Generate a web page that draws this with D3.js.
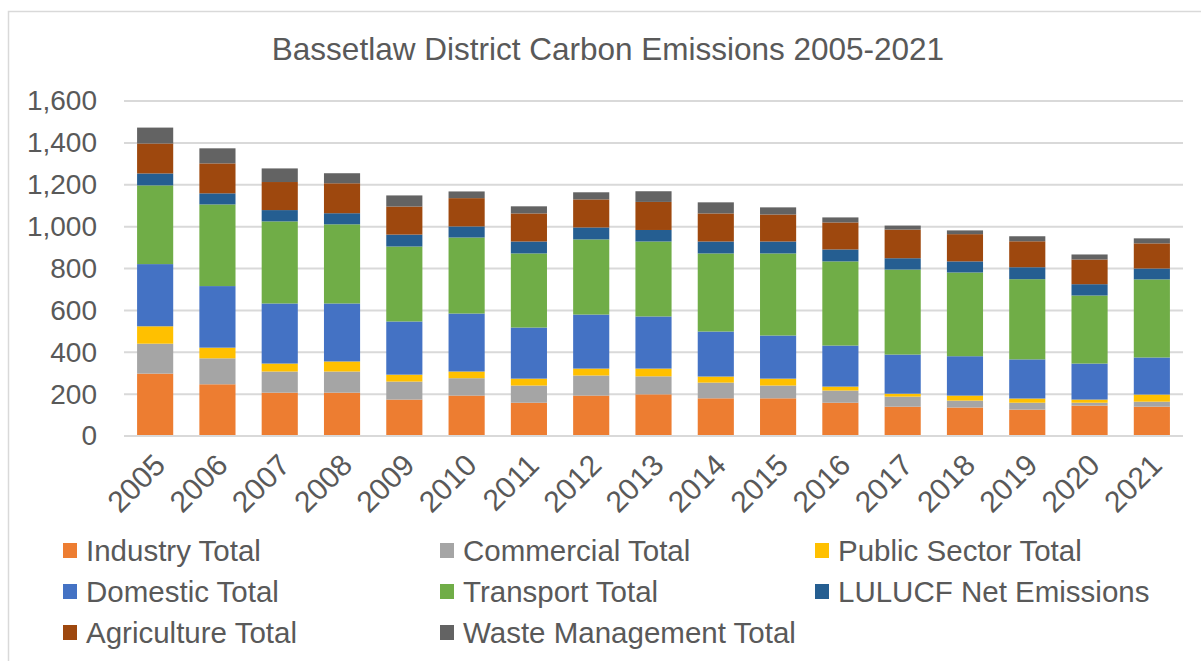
<!DOCTYPE html>
<html>
<head>
<meta charset="utf-8">
<script src="https://cdn.jsdelivr.net/npm/d3@7"></script>
<style>
  body { margin: 0; background: #fff; }
  text { font-family: "Liberation Sans", Arial, sans-serif; fill: #595959; }
</style>
</head>
<body>
<script>
// values (thousand tonnes CO2)
const years = ["2005","2006","2007","2008","2009","2010","2011","2012","2013","2014","2015","2016","2017","2018","2019","2020","2021"];
const seriesNames = ["Industry Total","Commercial Total","Public Sector Total","Domestic Total","Transport Total","LULUCF Net Emissions","Agriculture Total","Waste Management Total"];
const colors = ["#ED7D31","#A5A5A5","#FFC000","#4472C4","#70AD47","#255E91","#9E480E","#636363"];

const industry   = [298, 247, 207, 207, 174, 193, 159, 193, 199, 180, 180, 159, 140, 136, 126, 145, 140];
const commercial = [143, 124, 101, 101,  86,  83,  82,  96,  86,  75,  61,  58,  48,  33,  33,  14,  24];
const publicSec  = [ 83,  51,  38,  48,  33,  32,  33,  33,  37,  29,  33,  19,  14,  24,  20,  15,  34];
const domestic   = [297, 294, 287, 277, 254, 277, 244, 258, 249, 215, 206, 196, 187, 188, 187, 172, 177];
const transport  = [376, 390, 392, 378, 358, 363, 354, 359, 358, 373, 392, 402, 406, 400, 383, 325, 373];
const lulucf     = [ 57,  53,  54,  53,  57,  53,  57,  57,  55,  57,  57,  57,  54,  53,  57,  54,  52];
const agriculture= [143, 143, 134, 143, 134, 135, 134, 134, 134, 134, 129, 129, 137, 130, 124, 118, 120];
const waste      = [ 76,  72,  65,  48,  53,  32,  34,  34,  51,  53,  34,  24,  19,  18,  24,  24,  24];
const yTicks = [0, 200, 400, 600, 800, 1000, 1200, 1400, 1600];

const allSeries = [industry, commercial, publicSec, domestic, transport, lulucf, agriculture, waste];
const rows = years.map((y, i) => {
  const r = { year: y };
  seriesNames.forEach((s, j) => r[s] = allSeries[j][i]);
  return r;
});

const w = 1201, h = 661;
const plotLeft = 124, plotRight = 1183, plotTop = 101, plotBottom = 436;

const svg = d3.select("body").append("svg")
  .attr("width", w)
  .attr("height", h);

// chart frame
svg.append("rect")
  .attr("x", 8.5).attr("y", 11.5)
  .attr("width", w).attr("height", h)
  .attr("fill", "none")
  .attr("stroke", "#D9D9D9")
  .attr("stroke-width", 1.5);

svg.append("text")
  .attr("x", 608).attr("y", 60)
  .attr("text-anchor", "middle")
  .style("font-size", "31.5px")
  .text("Bassetlaw District Carbon Emissions 2005-2021");

const x = d3.scaleBand()
  .domain(years)
  .range([plotLeft, plotRight])
  .paddingInner(0.42)
  .paddingOuter(0.21);

const y = d3.scaleLinear()
  .domain([0, 1600])
  .range([plotBottom, plotTop]);

// gridlines
svg.append("g")
  .selectAll("line")
  .data(yTicks)
  .enter()
  .append("line")
  .attr("x1", plotLeft).attr("x2", plotRight)
  .attr("y1", d => y(d)).attr("y2", d => y(d))
  .attr("stroke", "#D9D9D9")
  .attr("stroke-width", 2);

const yAxis = d3.axisLeft(y)
  .tickValues(yTicks)
  .tickSize(0)
  .tickPadding(0)
  .tickFormat(d3.format(","));

svg.append("g")
  .attr("transform", "translate(97,0)")
  .call(yAxis)
  .call(g => g.select(".domain").remove())
  .selectAll("text")
  .style("font-size", "28px")
  .attr("fill", "#595959");

const stacked = d3.stack().keys(seriesNames)(rows);

svg.append("g")
  .selectAll("g")
  .data(stacked)
  .enter()
  .append("g")
  .attr("fill", (d, i) => colors[i])
  .selectAll("rect")
  .data(d => d)
  .enter()
  .append("rect")
  .attr("x", d => x(d.data.year))
  .attr("width", x.bandwidth())
  .attr("y", d => y(d[1]))
  .attr("height", d => y(d[0]) - y(d[1]));

// zero line on top
svg.append("line")
  .attr("x1", plotLeft).attr("x2", plotRight)
  .attr("y1", y(0)).attr("y2", y(0))
  .attr("stroke", "#D9D9D9")
  .attr("stroke-width", 2);

// rotated year labels
svg.append("g")
  .selectAll("text")
  .data(years)
  .enter()
  .append("text")
  .attr("text-anchor", "end")
  .attr("transform", d => "translate(" + (x(d) + x.bandwidth() / 2 + 12) + ",467) rotate(-45)")
  .style("font-size", "30px")
  .text(d => d);

// legend
const legX = [63, 440, 815];
const legY = [551, 592, 633];
const legend = svg.append("g");
seriesNames.forEach((s, i) => {
  const cx = legX[i % 3], cy = legY[Math.floor(i / 3)];
  legend.append("rect")
    .attr("x", cx).attr("y", cy - 8)
    .attr("width", 14).attr("height", 15)
    .attr("fill", colors[i]);
  legend.append("text")
    .attr("x", cx + 23).attr("y", cy + 10)
    .style("font-size", "29.5px")
    .text(s);
});
</script>
</body>
</html>
